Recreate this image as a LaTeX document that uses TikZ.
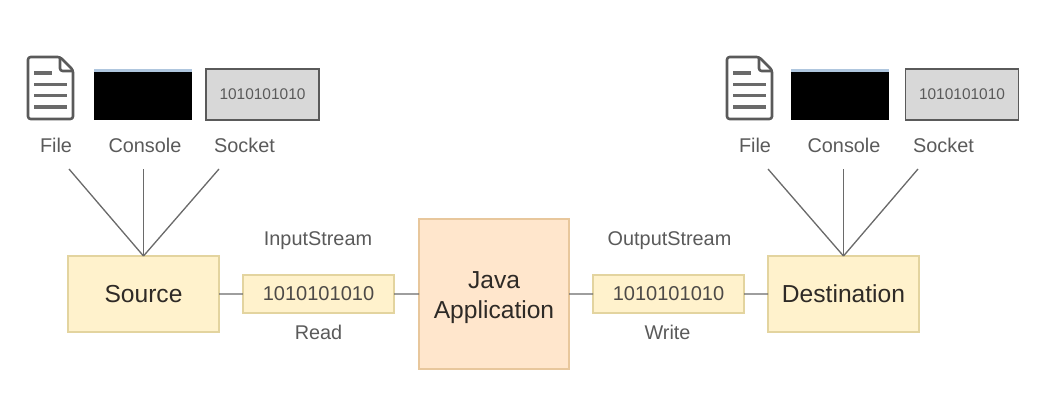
\documentclass[tikz,border=0pt]{standalone}
\usepackage{fontspec}
\setmainfont{Liberation Sans}
\definecolor{paleyellow}{HTML}{FFF2CC}
\definecolor{yellowedge}{HTML}{E3D49F}
\definecolor{paleorange}{HTML}{FFE6CC}
\definecolor{orangeedge}{HTML}{E8C79C}
\definecolor{inkdark}{HTML}{2E2A26}
\definecolor{inkgrey}{HTML}{5A5A5A}
\definecolor{linkgrey}{HTML}{6A6A6A}
\definecolor{socketfill}{HTML}{D8D8D8}
\definecolor{consolebar}{HTML}{AFC6DE}
\tikzset{
  endbox/.style={draw=yellowedge,fill=paleyellow,line width=0.6pt,minimum width=3.02cm,minimum height=1.52cm,text=inkdark,font=\fontsize{14}{17}\selectfont},
  bitsbox/.style={draw=yellowedge,fill=paleyellow,line width=0.6pt,minimum width=3.02cm,minimum height=0.76cm,text=inkdark!85,font=\fontsize{11.4}{14}\selectfont},
  appbox/.style={draw=orangeedge,fill=paleorange,line width=0.6pt,minimum width=3cm,minimum height=3cm,align=center,text=inkdark,font=\fontsize{14}{17}\selectfont},
  consolebox/.style={fill=black,minimum width=1.96cm,minimum height=1.02cm},
  socketbox/.style={draw=inkgrey,fill=socketfill,line width=0.6pt,minimum width=2.26cm,minimum height=1.02cm,text=inkgrey,font=\fontsize{8.8}{11}\selectfont},
  tag/.style={text=inkgrey,font=\fontsize{11.3}{14}\selectfont},
  link/.style={draw=linkgrey,line width=0.75pt},
  fileedge/.style={draw=inkgrey,line width=1.5pt,line join=round,rounded corners=1.5pt},
  fileline/.style={draw=linkgrey,line width=1.9pt}
}
\begin{document}
\begin{tikzpicture}[scale=0.2]
\tikzstyle{every node}+=[inner sep=0pt,outer sep=0pt]
\useasboundingbox (0,0) rectangle (105.4,-41.9);
% main row
\draw (14.35,-29.4) node [endbox] (source) {Source};
\draw (31.85,-29.4) node [bitsbox] (readbits) {1010101010};
\draw (49.4,-29.4) node [appbox] (javaapp) {\rule{0pt}{13.5pt}Java\\Application};
\draw (66.85,-29.4) node [bitsbox] (writebits) {1010101010};
\draw (84.35,-29.4) node [endbox] (destination) {Destination};
\draw (31.8,-24.1) node [tag] (instream) {InputStream};
\draw (31.85,-33.25) node [tag] (readtag) {Read};
\draw (66.95,-24.1) node [tag] (outstream) {OutputStream};
\draw (66.75,-33.25) node [tag] (writetag) {Write};
\draw [link] (source) -- (readbits);
\draw [link] (readbits) -- (javaapp);
\draw [link] (javaapp) -- (writebits);
\draw [link] (writebits) -- (destination);
% file icons
\foreach \fx in {0,69.9} {
\begin{scope}[xshift=\fx cm]
\draw [fileedge] (2.8,-5.7) -- (6,-5.7) -- (7.3,-7) -- (7.3,-11.9) -- (2.8,-11.9) -- cycle;
\draw [fileedge] (6,-5.7) -- (6,-7.1) -- (7.3,-7.1);
\draw [fileline] (3.4,-7.3) -- (5.2,-7.3);
\draw [fileline] (3.4,-8.45) -- (6.7,-8.45);
\draw [fileline] (3.4,-9.55) -- (6.7,-9.55);
\draw [fileline] (3.4,-10.7) -- (6.7,-10.7);
\end{scope}
}
% source side
\draw (14.3,-9.45) node [consolebox] (srcconsole) {};
\fill [consolebar] (srcconsole.north west) rectangle ++(9.8,-0.35);
\draw (26.25,-9.45) node [socketbox] (srcsocket) {1010101010};
\draw (5.6,-14.5) node [tag] (srcfiletag) {File};
\draw (14.5,-14.5) node [tag] (srcconsoletag) {Console};
\draw (24.45,-14.5) node [tag] (srcsockettag) {Socket};
\coordinate (srcfileend) at (6.9,-16.9);
\coordinate (srcconsoleend) at (14.35,-16.9);
\coordinate (srcsocketend) at (21.9,-16.9);
\draw [link] (source.north) -- (srcfileend);
\draw [link] (source.north) -- (srcconsoleend);
\draw [link] (source.north) -- (srcsocketend);
% destination side
\draw (84,-9.45) node [consolebox] (dstconsole) {};
\fill [consolebar] (dstconsole.north west) rectangle ++(9.8,-0.35);
\draw (96.2,-9.45) node [socketbox] (dstsocket) {1010101010};
\draw (75.5,-14.5) node [tag] (dstfiletag) {File};
\draw (84.4,-14.5) node [tag] (dstconsoletag) {Console};
\draw (94.35,-14.5) node [tag] (dstsockettag) {Socket};
\coordinate (dstfileend) at (76.8,-16.9);
\coordinate (dstconsoleend) at (84.35,-16.9);
\coordinate (dstsocketend) at (91.8,-16.9);
\draw [link] (destination.north) -- (dstfileend);
\draw [link] (destination.north) -- (dstconsoleend);
\draw [link] (destination.north) -- (dstsocketend);
\end{tikzpicture}
\end{document}
